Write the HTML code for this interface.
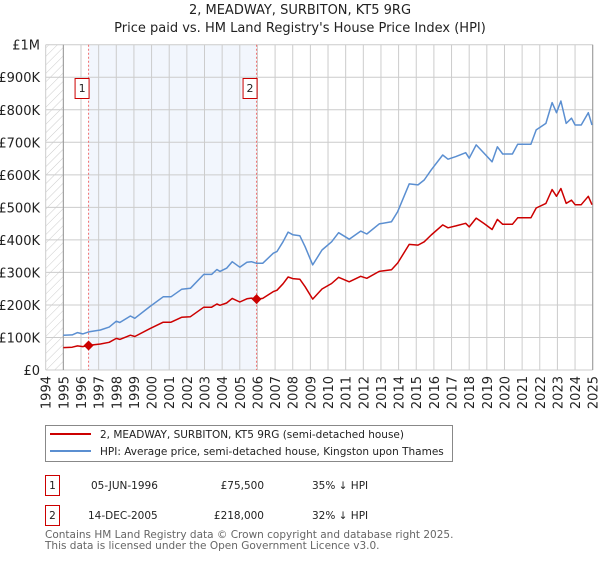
<!DOCTYPE html>
<html><head><meta charset="utf-8"><style>
body{margin:0;background:#fff;width:600px;height:560px;overflow:hidden;font-family:"DejaVu Sans","Liberation Sans",sans-serif;}
svg text{font-family:"DejaVu Sans","Liberation Sans",sans-serif;}
</style></head><body>
<svg id="chart" width="600" height="560" xmlns="http://www.w3.org/2000/svg">
<defs><pattern id="hatch" patternUnits="userSpaceOnUse" width="6" height="6" patternTransform="rotate(45)"><line x1="0" y1="0" x2="0" y2="6" stroke="#ccc" stroke-width="1"/></pattern></defs>
<text x="300" y="14" text-anchor="middle" font-size="13" fill="#222">2, MEADWAY, SURBITON, KT5 9RG</text>
<text x="300" y="32" text-anchor="middle" font-size="13" fill="#222">Price paid vs. HM Land Registry's House Price Index (HPI)</text>
<g id="plot"></g>
<g>
<rect x="45.5" y="425.5" width="407" height="36" fill="#fff" stroke="#888"/>
<line x1="50" y1="434" x2="91" y2="434" stroke="#cc0000" stroke-width="2"/>
<text x="100" y="438" font-size="10.5" fill="#222">2, MEADWAY, SURBITON, KT5 9RG (semi-detached house)</text>
<line x1="50" y1="451" x2="91" y2="451" stroke="#5b8fd1" stroke-width="2"/>
<text x="100" y="455" font-size="10.5" fill="#222">HPI: Average price, semi-detached house, Kingston upon Thames</text>
</g>
<g font-size="10.5" fill="#222">
<rect x="45.5" y="475.5" width="14" height="20" fill="#fff" stroke="#cc0000"/>
<text x="52.5" y="489" text-anchor="middle">1</text>
<text x="91" y="489">05-JUN-1996</text>
<text x="264" y="489" text-anchor="end">£75,500</text>
<text x="312" y="489">35% ↓ HPI</text>
<rect x="45.5" y="505.5" width="14" height="20" fill="#fff" stroke="#cc0000"/>
<text x="52.5" y="519" text-anchor="middle">2</text>
<text x="88" y="519">14-DEC-2005</text>
<text x="264" y="519" text-anchor="end">£218,000</text>
<text x="312" y="519">32% ↓ HPI</text>
</g>
<text x="45" y="538" font-size="10.5" fill="#666">Contains HM Land Registry data © Crown copyright and database right 2025.</text>
<text x="45" y="549" font-size="10.5" fill="#666">This data is licensed under the Open Government Licence v3.0.</text>
</svg>
<script>
const years=[1995,1995.5,1995.8,1996.1,1996.43,1997.1,1997.6,1998.0,1998.2,1998.8,1999.05,1999.9,2000.66,2001.1,2001.7,2002.2,2002.96,2003.4,2003.7,2003.87,2004.25,2004.57,2005.0,2005.4,2005.66,2005.95,2006.3,2006.9,2007.1,2007.45,2007.74,2008.0,2008.4,2008.7,2009.13,2009.66,2010.2,2010.6,2011.2,2011.85,2012.2,2012.9,2013.6,2013.95,2014.6,2015.1,2015.45,2015.85,2016.5,2016.8,2017.25,2017.8,2018.0,2018.4,2018.85,2019.3,2019.6,2019.9,2020.45,2020.75,2021.5,2021.8,2022.35,2022.7,2022.95,2023.2,2023.5,2023.8,2024.0,2024.35,2024.75,2024.96];
const hpiValues=[107,108,115,111,117,123,132,150,146,166,159,195,225,225,248,251,294,294,309,303,313,333,316,331,333,328,328,359,364,394,424,416,413,379,323,369,394,422,402,427,418,449,456,487,572,569,584,615,661,648,656,668,651,692,666,640,686,664,664,694,694,738,758,822,791,827,758,774,753,753,791,753];
const propertyValues=[69,70,74,72,75.5,80,85,97,94,107,103,127,147,147,162,164,193,193,203,199,206,220,209,219,221,218,220,241,245,265,286,281,279,256,218,249,266,285,271,288,282,303,308,329,386,384,394,415,446,437,443,451,440,467,450,432,463,448,448,468,468,498,512,555,534,558,512,522,508,508,534,508];
const saleYears=[1996.43,2005.95];
const salePrices=[75.5,218];
const saleLabels=["1","2"];
const yTicks=[0,100,200,300,400,500,600,700,800,900,1000];
const yTickLabels=["£0","£100K","£200K","£300K","£400K","£500K","£600K","£700K","£800K","£900K","£1M"];
const xTicks=[1994,1995,1996,1997,1998,1999,2000,2001,2002,2003,2004,2005,2006,2007,2008,2009,2010,2011,2012,2013,2014,2015,2016,2017,2018,2019,2020,2021,2022,2023,2024,2025];

const X0=45.7,X1=592.7,Y0=370,Y1=44.7;
const xs=y=>X0+(y-1994)/31*(X1-X0);
const ys=v=>Y0-v/1000*(Y0-Y1);
const NS="http://www.w3.org/2000/svg";
const g=document.getElementById('plot');
function mk(t,a){const e=document.createElementNS(NS,t);for(const k in a)e.setAttribute(k,a[k]);g.appendChild(e);return e;}

const bg=mk('rect',{x:X0,y:Y1,width:X1-X0,height:Y0-Y1,fill:'#fff'});


const hatch=mk('rect',{x:X0,y:Y1,width:xs(1995)-X0,height:Y0-Y1,fill:'url(#hatch)'});


const shade=mk('rect',{x:xs(saleYears[0]),y:Y1,width:xs(saleYears[1])-xs(saleYears[0]),height:Y0-Y1,fill:'#f2f6fd'});



yTicks.forEach((v,i)=>{
  const l=mk('line',{x1:X0,x2:X1,y1:ys(v),y2:ys(v),stroke:'#ccc','stroke-width':1});
  
  
  const t=mk('text',{x:40,y:ys(v)+5,'text-anchor':'end','font-size':13,fill:'#222'});
  t.textContent=yTickLabels[i];
  
  
});
xTicks.forEach(yr=>{
  const l=mk('line',{x1:xs(yr),x2:xs(yr),y1:Y1,y2:Y0,stroke:'#ccc','stroke-width':1});
  
  
  const t=mk('text',{x:0,y:0,'text-anchor':'end','font-size':13,fill:'#222',transform:`translate(${xs(yr)+5},376) rotate(-90)`});
  t.textContent=yr;
  
  
});
const ax=mk('line',{x1:xs(1995),x2:xs(1995),y1:Y1,y2:Y0,stroke:'#999','stroke-width':1});


const ax2=mk('line',{x1:X1,x2:X1,y1:Y1,y2:Y0,stroke:'#999','stroke-width':1});



saleYears.forEach((yr,i)=>{
  const l=mk('line',{x1:xs(yr),x2:xs(yr),y1:Y1,y2:Y0,stroke:'#f07070','stroke-width':1,'stroke-dasharray':'2,2'});
  
  
});

const pts=a=>a.map((v,i)=>xs(years[i]).toFixed(1)+','+ys(v).toFixed(1)).join(' ');
const hp=mk('polyline',{points:pts(hpiValues),fill:'none',stroke:'#5b8fd1','stroke-width':1.5,'stroke-linejoin':'round'});


const pp=mk('polyline',{points:pts(propertyValues),fill:'none',stroke:'#cc0000','stroke-width':1.5,'stroke-linejoin':'round'});



saleYears.forEach((yr,i)=>{
  const cx=xs(yr),cy=ys(salePrices[i]);
  const d=mk('polygon',{points:`${cx},${cy-5} ${cx+5},${cy} ${cx},${cy+5} ${cx-5},${cy}`,fill:'#cc0000'});
  
  
  const b=mk('rect',{x:cx-13.5,y:78.5,width:14,height:20,fill:'#fff',stroke:'#cc0000'});
  
  
  const t=mk('text',{x:cx-6.5,y:92,'text-anchor':'middle','font-size':11,fill:'#222'});
  t.textContent=saleLabels[i];
  
  
});
</script>
</body></html>
